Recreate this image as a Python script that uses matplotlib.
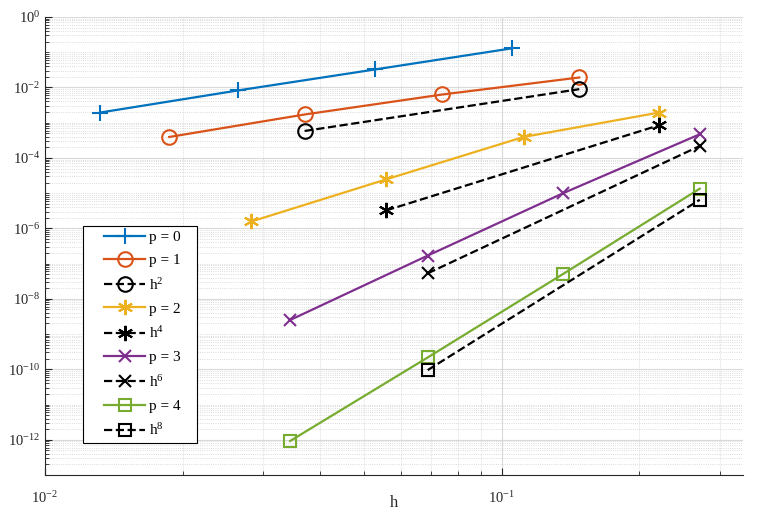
import numpy as np
import matplotlib
matplotlib.use('Agg')
import matplotlib.pyplot as plt
from matplotlib import ticker
from matplotlib.legend_handler import HandlerLine2D

plt.rcParams['font.family'] = ['Liberation Serif', 'DejaVu Serif']
plt.rcParams['mathtext.fontset'] = 'custom'
plt.rcParams['mathtext.rm'] = 'Liberation Serif'
plt.rcParams['mathtext.it'] = 'Liberation Serif:italic'

# data
h_p0 = [0.0132, 0.0264, 0.0528, 0.1052]
e_p0 = [1.94e-3, 8.2e-3, 3.25e-2, 1.29e-1]

h_p1 = [0.0187, 0.0370, 0.0741, 0.1477]
e_p1 = [3.93e-4, 1.71e-3, 6.32e-3, 1.92e-2]
h_r2 = [0.0370, 0.1477]
e_r2 = [5.82e-4, 8.95e-3]

h_p2 = [0.0283, 0.0558, 0.1115, 0.2208]
e_p2 = [1.57e-6, 2.46e-5, 3.93e-4, 1.94e-3]
h_r4 = [0.0558, 0.2208]
e_r4 = [3.23e-6, 8.46e-4]

h_p3 = [0.0344, 0.0688, 0.1362, 0.2710]
e_p3 = [2.51e-9, 1.69e-7, 1.0e-5, 4.69e-4]
h_r6 = [0.0688, 0.2710]
e_r6 = [5.3e-8, 2.18e-4]

h_p4 = [0.0344, 0.0688, 0.1362, 0.2710]
e_p4 = [9.25e-13, 2.17e-10, 5.11e-8, 1.34e-5]
h_r8 = [0.0688, 0.2710]
e_r8 = [9.5e-11, 6.5e-6]


class PadHandler(HandlerLine2D):
    # shift the legend sample right, MATLAB style left padding
    pad = 12.0

    def create_artists(self, legend, orig_handle, xdescent, ydescent,
                       width, height, fontsize, trans):
        return super().create_artists(legend, orig_handle, xdescent - self.pad,
                                      ydescent, width - self.pad, height,
                                      fontsize, trans)


fig = plt.figure(figsize=(7.67, 5.2), dpi=100)
ax = fig.add_axes([45/767, 45/520, 698/767, 458/520])

c0, c1, c2, c3, c4 = '#0072BD', '#D95319', '#EDB120', '#7E2F8E', '#77AC30'
lw = 1.6
mew = 1.5

ax.loglog(h_p0, e_p0, '-', marker='+', color=c0, lw=lw, ms=12, mew=mew, label='p = 0')
ax.loglog(h_p1, e_p1, '-', marker='o', color=c1, lw=lw, ms=10.5, mew=mew, mfc='none', label='p = 1')
ax.loglog(h_r2, e_r2, '--', marker='o', color='k', lw=lw, ms=10.5, mew=mew, mfc='none', label='h$^2$')
ax.loglog(h_p2, e_p2, '-', marker=(6, 2, 0), color=c2, lw=lw, ms=11, mew=mew, label='p = 2')
ax.loglog(h_r4, e_r4, '--', marker=(6, 2, 0), color='k', lw=lw, ms=11, mew=mew, label='h$^4$')
ax.loglog(h_p3, e_p3, '-', marker='x', color=c3, lw=lw, ms=9, mew=mew, label='p = 3')
ax.loglog(h_r6, e_r6, '--', marker='x', color='k', lw=lw, ms=9, mew=mew, label='h$^6$')
ax.loglog(h_p4, e_p4, '-', marker='s', color=c4, lw=lw, ms=9, mew=mew, mfc='none', label='p = 4')
ax.loglog(h_r8, e_r8, '--', marker='s', color='k', lw=lw, ms=9, mew=mew, mfc='none', label='h$^8$')

ax.set_xlim(0.01, 0.337)
ax.set_ylim(1e-13, 1e0)
ax.set_yticks([1e-12, 1e-10, 1e-8, 1e-6, 1e-4, 1e-2, 1e0])
ax.set_xticks([1e-2, 1e-1])
ax.xaxis.set_minor_locator(ticker.LogLocator(base=10, subs=np.arange(1, 10), numticks=100))
ax.yaxis.set_minor_locator(ticker.LogLocator(base=10, subs=np.arange(1, 10), numticks=100))
ax.xaxis.set_minor_formatter(ticker.NullFormatter())
ax.yaxis.set_minor_formatter(ticker.NullFormatter())

ax.grid(True, which='major', color='#d9d9d9', lw=0.8, ls='-')
ax.grid(True, which='minor', color='#cfcfcf', lw=0.6, ls=':')
ax.set_axisbelow(True)

for s in ['top', 'right']:
    ax.spines[s].set_visible(False)
for s in ['left', 'bottom']:
    ax.spines[s].set_color('#262626')
    ax.spines[s].set_linewidth(0.8)
ax.tick_params(which='both', direction='in', colors='#262626', labelsize=10.5)
ax.tick_params(which='major', length=5)
ax.tick_params(which='minor', length=3)
ax.tick_params(axis='x', pad=11)

ax.set_xlabel('h', fontsize=12, color='#262626')
ax.xaxis.set_label_coords(0.5, (475 - 503) / 458)
ax.xaxis.label.set_va('center')

labels = ['p = 0', 'p = 1', 'h$^2$', 'p = 2', 'h$^4$', 'p = 3', 'h$^6$', 'p = 4', 'h$^8$']
labels = [l + '   ' for l in labels]
handles = ax.get_lines()
leg = ax.legend(handles, labels, loc='upper left', bbox_to_anchor=(0.0544, 0.544),
                borderaxespad=0, fontsize=11, fancybox=False, framealpha=1,
                edgecolor='k', handlelength=3.75, handletextpad=0.3,
                labelspacing=0.62, borderpad=0.3,
                handler_map={h: PadHandler() for h in handles})
leg.get_frame().set_linewidth(0.8)

fig.savefig('out.png', dpi=100)
